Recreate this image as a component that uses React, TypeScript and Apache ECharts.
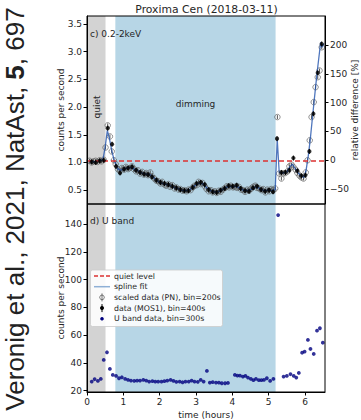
import React, { useEffect, useRef } from 'react';
import * as echarts from 'echarts';

const TITLE = 'Proxima Cen (2018-03-11)';
const CITATION = 'Veronig et al., 2021, NatAst, {b|5}, 697';

const QUIET_LEVEL = 1.04;
const QUIET_BAND = [0, 0.51];
const DIMMING_BAND = [0.78, 5.19];

const X_RANGE = [0, 6.55];
const TOP_Y_RANGE = [0.25, 3.645];
const BOTTOM_Y_RANGE = [19, 154.4];

const xTicks = [0, 1, 2, 3, 4, 5, 6];
const topYTicks = [0.5, 1.0, 1.5, 2.0, 2.5, 3.0, 3.5];
const relTicks = [-50, 0, 50, 100, 150, 200];
const bottomYTicks = [20, 40, 60, 80, 100, 120, 140];

// data (MOS1), bin=400s
const mosTime = [0.13, 0.24, 0.35, 0.46, 0.57, 0.69, 0.80, 0.91, 1.02, 1.13, 1.24, 1.35, 1.46, 1.57, 1.68, 1.79, 1.91, 2.02, 2.13, 2.24, 2.35, 2.46, 2.57, 2.68, 2.79, 2.91, 3.02, 3.13, 3.24, 3.35, 3.46, 3.57, 3.68, 3.79, 3.90, 4.01, 4.12, 4.23, 4.35, 4.46, 4.57, 4.68, 4.79, 4.90, 5.01, 5.12, 5.23, 5.35, 5.46, 5.57, 5.68, 5.79, 5.90, 6.01, 6.12, 6.23, 6.35, 6.46];
const mosRate = [1.01, 1.00, 1.03, 1.04, 1.62, 1.33, 0.93, 0.81, 0.88, 0.90, 0.92, 0.86, 0.82, 0.79, 0.78, 0.74, 0.68, 0.64, 0.62, 0.60, 0.57, 0.54, 0.51, 0.49, 0.49, 0.55, 0.62, 0.64, 0.60, 0.51, 0.47, 0.46, 0.50, 0.53, 0.58, 0.57, 0.59, 0.53, 0.49, 0.48, 0.54, 0.57, 0.51, 0.48, 0.50, 0.47, 1.43, 0.82, 0.82, 0.86, 1.08, 0.85, 0.76, 0.77, 1.20, 1.88, 2.62, 3.14];
const MOS_ERR = 0.045;

// scaled data (PN), bin=200s
const pnTime = [0.07, 0.13, 0.18, 0.24, 0.29, 0.35, 0.40, 0.46, 0.51, 0.57, 0.63, 0.68, 0.74, 0.79, 0.85, 0.90, 0.96, 1.02, 1.07, 1.13, 1.18, 1.24, 1.29, 1.35, 1.40, 1.46, 1.52, 1.57, 1.63, 1.68, 1.74, 1.79, 1.85, 1.91, 1.96, 2.02, 2.07, 2.13, 2.18, 2.24, 2.29, 2.35, 2.41, 2.46, 2.52, 2.57, 2.63, 2.68, 2.74, 2.79, 2.85, 2.91, 2.96, 3.02, 3.07, 3.13, 3.18, 3.24, 3.29, 3.35, 3.41, 3.46, 3.52, 3.57, 3.63, 3.68, 3.74, 3.80, 3.85, 3.91, 3.96, 4.02, 4.07, 4.13, 4.18, 4.24, 4.30, 4.35, 4.41, 4.46, 4.52, 4.57, 4.63, 4.68, 4.74, 4.80, 4.85, 4.91, 4.96, 5.02, 5.07, 5.13, 5.18, 5.24, 5.29, 5.35, 5.40, 5.46, 5.52, 5.57, 5.63, 5.68, 5.74, 5.79, 5.85, 5.90, 5.96, 6.02, 6.07, 6.13, 6.18, 6.24, 6.29, 6.35, 6.40, 6.46];
const pnRate = [1.03, 1.00, 1.02, 1.03, 1.01, 1.04, 1.02, 1.05, 1.27, 1.67, 1.47, 1.20, 1.04, 0.97, 0.88, 0.85, 0.90, 0.87, 0.92, 0.88, 0.90, 0.93, 0.88, 0.84, 0.86, 0.80, 0.83, 0.78, 0.81, 0.77, 0.82, 0.75, 0.71, 0.67, 0.66, 0.62, 0.65, 0.60, 0.58, 0.61, 0.56, 0.59, 0.53, 0.55, 0.51, 0.52, 0.49, 0.50, 0.48, 0.51, 0.50, 0.55, 0.58, 0.59, 0.65, 0.61, 0.63, 0.57, 0.52, 0.48, 0.50, 0.46, 0.48, 0.45, 0.49, 0.47, 0.51, 0.54, 0.57, 0.55, 0.58, 0.55, 0.56, 0.54, 0.56, 0.51, 0.50, 0.47, 0.51, 0.49, 0.53, 0.56, 0.58, 0.54, 0.53, 0.50, 0.52, 0.46, 0.51, 0.48, 0.52, 0.50, 0.53, 1.82, 0.80, 0.71, 0.80, 0.81, 0.84, 0.93, 0.96, 0.92, 0.87, 0.81, 0.76, 0.73, 0.71, 0.82, 1.04, 1.40, 1.82, 2.09, 2.36, 2.54, 2.66, 3.08];
const PN_ERR = 0.035;

// spline fit
const splineTime = [0.05, 0.15, 0.25, 0.35, 0.44, 0.50, 0.56, 0.62, 0.68, 0.74, 0.80, 0.86, 0.92, 1.00, 1.10, 1.20, 1.30, 1.40, 1.50, 1.60, 1.70, 1.80, 1.90, 2.00, 2.10, 2.20, 2.30, 2.40, 2.50, 2.60, 2.70, 2.80, 2.90, 3.00, 3.10, 3.20, 3.30, 3.40, 3.50, 3.60, 3.70, 3.80, 3.90, 4.00, 4.10, 4.20, 4.30, 4.40, 4.50, 4.60, 4.70, 4.80, 4.90, 5.00, 5.10, 5.18, 5.235, 5.29, 5.40, 5.50, 5.58, 5.65, 5.72, 5.80, 5.88, 5.97, 6.03, 6.09, 6.15, 6.20, 6.25, 6.30, 6.35, 6.40, 6.43, 6.47, 6.52];
const splineRate = [1.02, 1.01, 1.02, 1.03, 1.05, 1.28, 1.58, 1.42, 1.22, 1.06, 0.95, 0.88, 0.86, 0.88, 0.90, 0.91, 0.88, 0.85, 0.81, 0.79, 0.79, 0.75, 0.69, 0.64, 0.62, 0.60, 0.58, 0.55, 0.53, 0.50, 0.49, 0.50, 0.54, 0.60, 0.63, 0.61, 0.54, 0.49, 0.47, 0.47, 0.50, 0.54, 0.57, 0.56, 0.57, 0.54, 0.50, 0.49, 0.51, 0.55, 0.55, 0.51, 0.49, 0.50, 0.49, 0.51, 1.42, 0.82, 0.81, 0.83, 0.92, 0.97, 0.90, 0.82, 0.76, 0.73, 0.86, 1.12, 1.45, 1.78, 2.10, 2.42, 2.72, 3.00, 3.17, 3.08, 3.15];

// U band data, bin=300s
const uTime = [0.13, 0.21, 0.30, 0.38, 0.46, 0.55, 0.63, 0.71, 0.80, 0.88, 0.96, 1.05, 1.13, 1.21, 1.30, 1.38, 1.46, 1.55, 1.63, 1.71, 1.80, 1.88, 1.96, 2.05, 2.13, 2.21, 2.30, 2.38, 2.46, 2.55, 2.63, 2.71, 2.80, 2.88, 2.96, 3.05, 3.13, 3.21, 3.30, 3.38, 3.46, 3.55, 3.63, 3.71, 3.80, 3.88, 4.07, 4.14, 4.21, 4.29, 4.36, 4.43, 4.51, 4.58, 4.65, 4.73, 4.80, 4.87, 4.95, 5.04, 5.13, 5.26, 5.41, 5.50, 5.60, 5.69, 5.76, 5.83, 5.92, 5.99, 6.08, 6.15, 6.24, 6.33, 6.41, 6.49];
const uRate = [26.5, 28.2, 27.0, 28.4, 42.1, 47.6, 35.6, 31.3, 30.6, 28.9, 29.6, 28.4, 27.7, 27.2, 27.0, 27.2, 27.2, 27.7, 27.2, 26.5, 26.8, 26.5, 26.5, 26.5, 26.8, 27.2, 27.7, 27.0, 26.3, 26.5, 26.0, 26.5, 26.5, 27.2, 26.5, 26.3, 27.7, 26.5, 34.2, 25.8, 26.1, 25.8, 25.8, 25.3, 25.3, 25.5, 31.3, 30.8, 30.8, 30.1, 30.6, 29.4, 28.4, 27.5, 28.4, 27.5, 27.5, 27.7, 28.9, 27.0, 28.4, 146.4, 30.1, 30.6, 31.8, 30.6, 29.4, 32.7, 47.3, 48.1, 56.5, 50.0, 46.4, 63.2, 64.9, 54.5];

const legendItems = ['quiet level', 'spline fit', 'scaled data (PN), bin=200s', 'data (MOS1), bin=400s', 'U band data, bin=300s'];

const FONT = "'DejaVu Sans', 'Noto Sans', sans-serif";
const TXT = '#262626';
const RED = '#dc3232';
const SPLINE = 'rgba(30,80,170,0.78)';
const SPLINE_LEGEND = '#8fb0d6';
const PN_COLOR = '#555555';
const NAVY = '#00007f';
const GRAY_BAND = '#d3d3d3';
const BLUE_BAND = '#b7d6e6';

const zip = (a: number[], b: number[]) => a.map((v, i) => [v, b[i]]);

function errorBars(t: number[], r: number[], e: number, color: string, z: number) {
  return {
    type: 'custom',
    xAxisIndex: 0,
    yAxisIndex: 0,
    z,
    silent: true,
    clip: true,
    data: t.map((v, i) => [v, r[i], e]),
    encode: { x: 0, y: 1 },
    renderItem: (params: any, api: any) => {
      const x = api.value(0);
      const y = api.value(1);
      const err = api.value(2);
      const a = api.coord([x, y - err]);
      const b = api.coord([x, y + err]);
      return {
        type: 'line',
        shape: { x1: a[0], y1: a[1], x2: b[0], y2: b[1] },
        style: { stroke: color, lineWidth: 1 },
      };
    },
  };
}

function bandSeries(xi: number, yi: number) {
  return {
    type: 'line',
    xAxisIndex: xi,
    yAxisIndex: yi,
    data: [],
    silent: true,
    z: 1,
    markArea: {
      silent: true,
      label: { show: false },
      data: [
        [{ xAxis: QUIET_BAND[0], itemStyle: { color: GRAY_BAND, opacity: 1 } }, { xAxis: QUIET_BAND[1] }],
        [{ xAxis: DIMMING_BAND[0], itemStyle: { color: BLUE_BAND, opacity: 1 } }, { xAxis: DIMMING_BAND[1] }],
      ],
    },
  };
}

const tickLabel = { fontSize: 9, color: TXT, fontFamily: FONT };
const nameStyle = { fontSize: 9, color: TXT, fontFamily: FONT };
const minus = (v: number) => (v < 0 ? '\u2212' + Math.abs(v) : String(v));

const relMin = (TOP_Y_RANGE[0] / QUIET_LEVEL - 1) * 100;
const relMax = (TOP_Y_RANGE[1] / QUIET_LEVEL - 1) * 100;

const text = (
  x: number, y: number, str: string, size: number,
  align = 'left', vAlign = 'middle', rotation = 0, extra: any = {}
) => ({
  type: 'text',
  x, y, rotation, z: 100,
  silent: true,
  style: {
    text: str,
    fill: TXT,
    fontSize: size,
    fontFamily: FONT,
    align, verticalAlign: vAlign,
    textAlign: align, textVerticalAlign: vAlign,
    ...extra,
  },
});

const LEG_X = 90.5;
const LEG_Y = 270;
const LEG_ROW = 10.7;
const legendGraphics: any[] = [
  {
    type: 'rect', z: 100, silent: true,
    shape: { x: LEG_X, y: LEG_Y, width: 132, height: 56.5, r: 2 },
    style: { fill: 'rgba(255,255,255,0.88)', stroke: '#cccccc', lineWidth: 0.8 },
  },
];
legendItems.forEach((label, i) => {
  const cy = LEG_Y + 6 + i * LEG_ROW;
  const hx = LEG_X + 11.5;
  if (i === 0) {
    legendGraphics.push({ type: 'line', z: 101, silent: true, shape: { x1: LEG_X + 3.5, y1: cy, x2: LEG_X + 19.5, y2: cy }, style: { stroke: RED, lineWidth: 1.4, lineDash: [4, 2] } });
  } else if (i === 1) {
    legendGraphics.push({ type: 'line', z: 101, silent: true, shape: { x1: LEG_X + 3.5, y1: cy, x2: LEG_X + 19.5, y2: cy }, style: { stroke: SPLINE_LEGEND, lineWidth: 1.5 } });
  } else if (i === 2) {
    legendGraphics.push({ type: 'line', z: 101, silent: true, shape: { x1: hx, y1: cy - 4, x2: hx, y2: cy + 4 }, style: { stroke: PN_COLOR, lineWidth: 0.8 } });
    legendGraphics.push({ type: 'circle', z: 102, silent: true, shape: { cx: hx, cy, r: 2.3 }, style: { fill: 'rgba(255,255,255,0)', stroke: PN_COLOR, lineWidth: 0.8 } });
  } else if (i === 3) {
    legendGraphics.push({ type: 'line', z: 101, silent: true, shape: { x1: hx, y1: cy - 4, x2: hx, y2: cy + 4 }, style: { stroke: '#000', lineWidth: 1 } });
    legendGraphics.push({ type: 'circle', z: 102, silent: true, shape: { cx: hx, cy, r: 2 }, style: { fill: '#000' } });
  } else {
    legendGraphics.push({ type: 'circle', z: 102, silent: true, shape: { cx: hx, cy, r: 1.8 }, style: { fill: NAVY } });
  }
  legendGraphics.push(text(LEG_X + 23.5, cy, label, 7.8));
});

const xAxisBase = (gridIndex: number, showLabels: boolean) => ({
  gridIndex, type: 'value', min: X_RANGE[0], max: X_RANGE[1], z: 10,
  axisLine: { show: showLabels, onZero: false, lineStyle: { color: '#000', width: 1 } },
  axisTick: { show: showLabels, length: 3.5, customValues: xTicks, lineStyle: { color: '#000' } },
  axisLabel: { ...tickLabel, show: showLabels, customValues: xTicks, margin: 5, formatter: (v: number) => String(v) },
  splitLine: { show: false },
});

const gridBase = { left: 87, width: 238, height: 188, show: true, borderColor: '#000', borderWidth: 1, backgroundColor: 'transparent', z: 10, containLabel: false, outerBoundsMode: 'none' };

const option: any = {
  animation: false,
  backgroundColor: '#ffffff',
  grid: [
    { ...gridBase, top: 16 },
    { ...gridBase, top: 204 },
  ],
  xAxis: [
    xAxisBase(0, false),
    {
      ...xAxisBase(1, true),
      name: 'time (hours)', nameLocation: 'middle', nameGap: 18, nameTextStyle: nameStyle,
    },
  ],
  yAxis: [
    {
      gridIndex: 0, type: 'value', min: TOP_Y_RANGE[0], max: TOP_Y_RANGE[1], position: 'left', z: 10,
      axisLine: { show: true, onZero: false, lineStyle: { color: '#000', width: 1 } },
      axisTick: { show: true, length: 3.5, customValues: topYTicks, lineStyle: { color: '#000' } },
      axisLabel: { ...tickLabel, customValues: topYTicks, margin: 5, formatter: (v: number) => v.toFixed(1) },
      splitLine: { show: false },
      name: 'counts per second', nameLocation: 'middle', nameGap: 22, nameMoveOverlap: false, nameTextStyle: nameStyle,
    },
    {
      gridIndex: 0, type: 'value', min: relMin, max: relMax, position: 'right', z: 10,
      axisLine: { show: true, onZero: false, lineStyle: { color: '#000', width: 1 } },
      axisTick: { show: true, length: 3.5, customValues: relTicks, lineStyle: { color: '#000' } },
      axisLabel: { ...tickLabel, customValues: relTicks, margin: 5, formatter: minus },
      splitLine: { show: false },
      name: 'relative difference [%]', nameLocation: 'middle', nameRotate: 90, nameGap: 25, nameMoveOverlap: false, nameTextStyle: nameStyle,
    },
    {
      gridIndex: 1, type: 'value', min: BOTTOM_Y_RANGE[0], max: BOTTOM_Y_RANGE[1], position: 'left', z: 10,
      axisLine: { show: true, onZero: false, lineStyle: { color: '#000', width: 1 } },
      axisTick: { show: true, length: 3.5, customValues: bottomYTicks, lineStyle: { color: '#000' } },
      axisLabel: { ...tickLabel, customValues: bottomYTicks, margin: 5, formatter: (v: number) => String(v) },
      splitLine: { show: false },
      name: 'counts per second', nameLocation: 'middle', nameGap: 22, nameMoveOverlap: false, nameTextStyle: nameStyle,
    },
  ],
  series: [
    bandSeries(0, 0),
    bandSeries(1, 2),
    {
      type: 'scatter', xAxisIndex: 0, yAxisIndex: 0, z: 3, silent: true,
      symbol: 'circle', symbolSize: 5.5,
      itemStyle: { color: 'rgba(255,255,255,0)', borderColor: PN_COLOR, borderWidth: 0.8 },
      data: zip(pnTime, pnRate),
    },
    errorBars(pnTime, pnRate, PN_ERR, PN_COLOR, 3),
    {
      type: 'line', xAxisIndex: 0, yAxisIndex: 0, z: 4, silent: true,
      showSymbol: false, symbol: 'none',
      lineStyle: { color: SPLINE, width: 1.3 },
      data: zip(splineTime, splineRate),
      markLine: {
        silent: true, symbol: 'none', label: { show: false },
        lineStyle: { color: RED, width: 1.5, type: [5, 3] },
        data: [{ yAxis: QUIET_LEVEL }],
      },
    },
    errorBars(mosTime, mosRate, MOS_ERR, '#000', 5),
    {
      type: 'scatter', xAxisIndex: 0, yAxisIndex: 0, z: 5, silent: true,
      symbol: 'circle', symbolSize: 4.2,
      itemStyle: { color: '#000' },
      data: zip(mosTime, mosRate),
    },
    {
      type: 'scatter', xAxisIndex: 1, yAxisIndex: 2, z: 5, silent: true,
      symbol: 'circle', symbolSize: 3.8,
      itemStyle: { color: NAVY },
      data: zip(uTime, uRate),
    },
  ],
  graphic: {
    elements: [
      text(206.5, 9, TITLE, 10.8, 'center', 'middle'),
      text(90, 33.5, 'c) 0.2-2keV', 9, 'left', 'middle'),
      text(97, 107, 'quiet', 9, 'center', 'middle', Math.PI / 2),
      text(195.5, 104, 'dimming', 9, 'center', 'middle'),
      text(90, 221, 'd) U band', 9, 'left', 'middle'),
      {
        type: 'text', x: 15, y: 209, rotation: Math.PI / 2, z: 100, silent: true,
        style: {
          text: CITATION,
          fill: '#222',
          fontSize: 26,
          fontFamily: "'Liberation Sans', Arial, sans-serif",
          align: 'center', verticalAlign: 'middle',
          textAlign: 'center', textVerticalAlign: 'middle',
          rich: {
            b: { fontSize: 26, fontWeight: 'bold', fontFamily: "'Liberation Sans', Arial, sans-serif", fill: '#222' },
          },
        },
      },
      ...legendGraphics,
    ],
  },
};

export default function App() {
  const ref = useRef<HTMLDivElement>(null);
  useEffect(() => {
    if (!ref.current) return;
    const chart = echarts.init(ref.current, null, { renderer: 'svg' });
    chart.setOption(option);
    return () => chart.dispose();
  }, []);
  return (
    <div
      ref={ref}
      style={{ position: 'absolute', left: 0, top: 0, width: 361, height: 420, background: '#fff' }}
    />
  );
}
